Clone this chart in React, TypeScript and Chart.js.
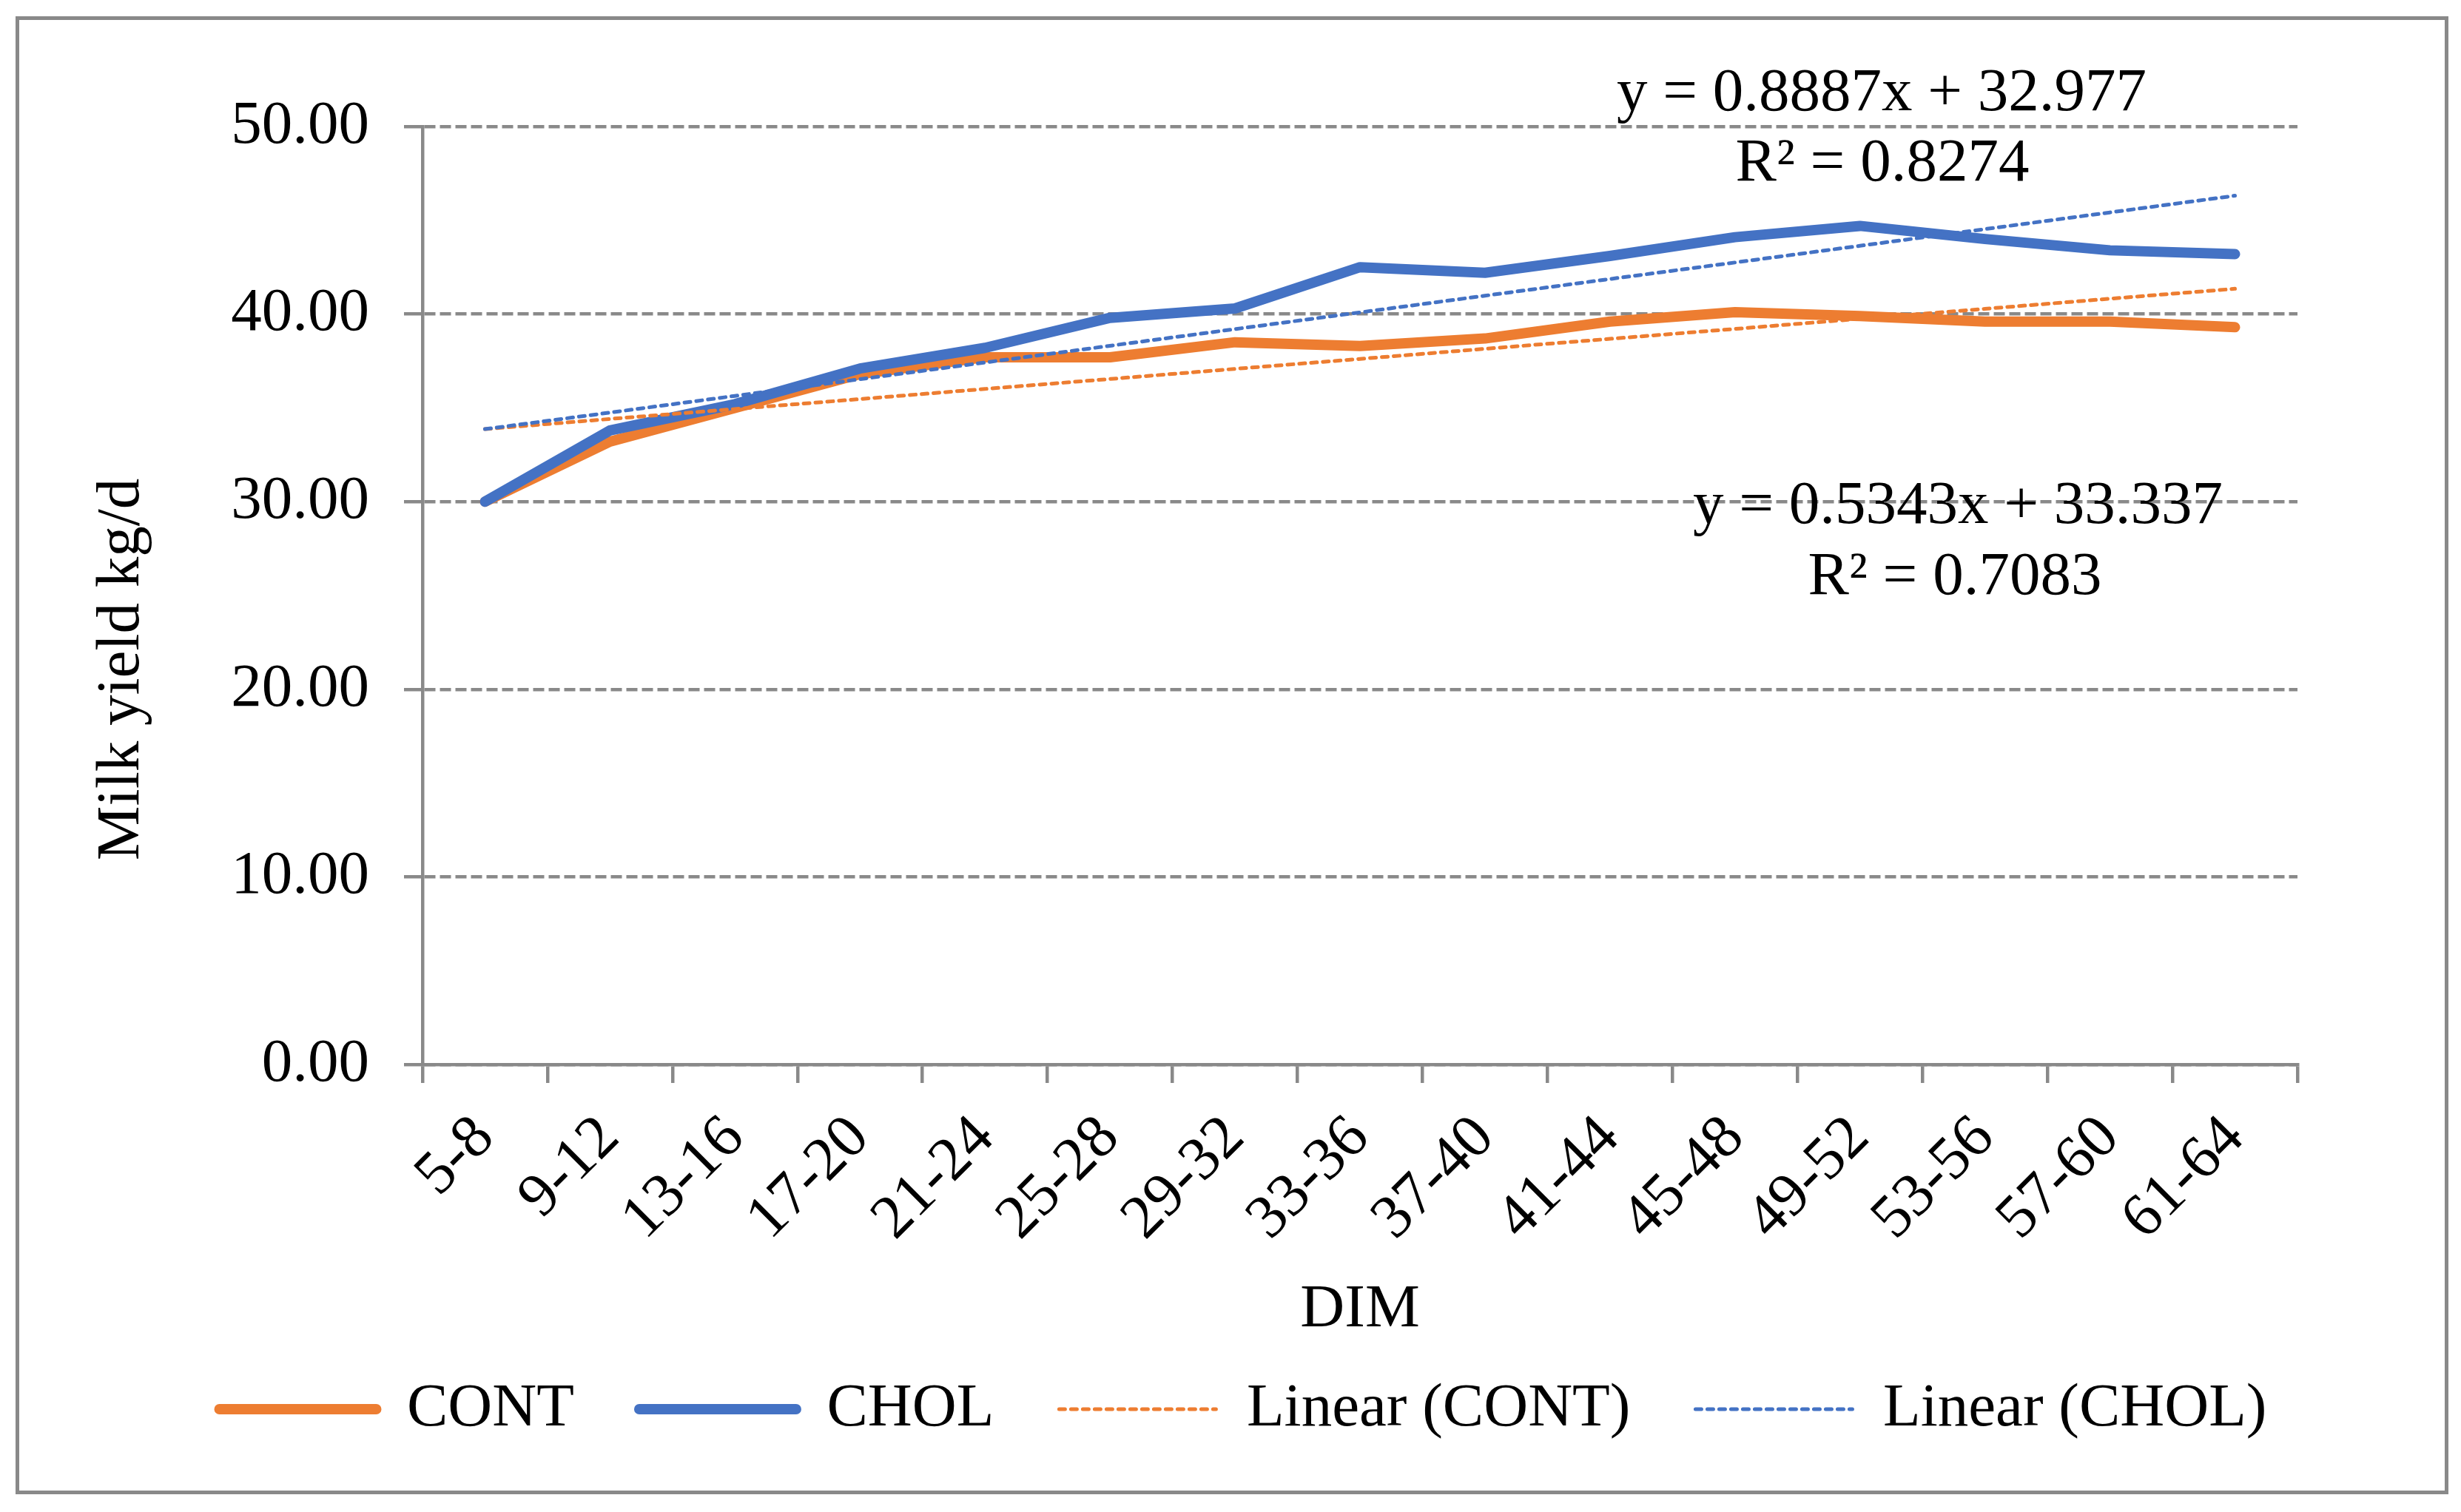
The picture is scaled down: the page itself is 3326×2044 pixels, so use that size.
import React, { useEffect, useRef } from "react";
import { Chart, registerables } from "chart.js";

Chart.register(...registerables);

const CATEGORIES = ["5-8", "9-12", "13-16", "17-20", "21-24", "25-28", "29-32", "33-36", "37-40", "41-44", "45-48", "49-52", "53-56", "57-60", "61-64"];
const CONT = [30.0, 33.2, 35.0, 36.8, 37.7, 37.7, 38.5, 38.3, 38.7, 39.6, 40.1, 39.9, 39.6, 39.6, 39.3];
const CHOL = [30.0, 33.8, 35.2, 37.1, 38.2, 39.8, 40.3, 42.5, 42.2, 43.1, 44.1, 44.7, 44.0, 43.4, 43.2];
const TREND_CONT = [33.87, 34.41, 34.94, 35.47, 36.01, 36.54, 37.08, 37.61, 38.15, 38.68, 39.21, 39.75, 40.28, 40.82, 41.35];
const TREND_CHOL = [33.87, 34.75, 35.64, 36.53, 37.42, 38.31, 39.2, 40.09, 40.98, 41.87, 42.75, 43.64, 44.53, 45.42, 46.31];
const SERIES_LABELS = ["CONT", "CHOL", "Linear (CONT)", "Linear (CHOL)"];
const Y_MIN = 0;
const Y_MAX = 50;
const Y_STEP = 10;
const EQ_CHOL = ["y = 0.8887x + 32.977", "R² = 0.8274"];
const EQ_CONT = ["y = 0.5343x + 33.337", "R² = 0.7083"];
const Y_TITLE = "Milk yield kg/d";
const X_TITLE = "DIM";

const ORANGE = "#ED7D31";
const BLUE = "#4472C4";
const GREY = "#898989";
const FONT = "'Times New Roman', 'Liberation Serif', serif";
const FS = 83;

const annotationPlugin = {
  id: "trendAnnotations",
  afterDraw(chart: any) {
    const ctx = chart.ctx as CanvasRenderingContext2D;
    ctx.save();
    ctx.fillStyle = "#000";
    ctx.font = `${FS}px ${FONT}`;
    ctx.textAlign = "center";
    ctx.textBaseline = "alphabetic";
    ctx.fillText(EQ_CHOL[0], 2543, 149);
    ctx.fillText(EQ_CHOL[1], 2544, 244);
    ctx.fillText(EQ_CONT[0], 2646, 707);
    ctx.fillText(EQ_CONT[1], 2642, 803);
    ctx.translate(187, 905);
    ctx.rotate(-Math.PI / 2);
    ctx.fillText(Y_TITLE, 0, 0);
    ctx.restore();
  },
};

export default function App() {
  const ref = useRef<HTMLCanvasElement>(null);

  useEffect(() => {
    const canvas = ref.current;
    if (!canvas) return;
    Chart.defaults.font.family = FONT;
    const font = { family: FONT, size: FS };
    const baseGenerate = (Chart.defaults.plugins.legend.labels as any).generateLabels;
    const chart = new Chart(canvas, {
      type: "line",
      data: {
        labels: CATEGORIES,
        datasets: [
          {
            label: SERIES_LABELS[0],
            data: CONT,
            borderColor: ORANGE,
            backgroundColor: ORANGE,
            borderWidth: 14,
            pointRadius: 0,
            pointHoverRadius: 0,
            tension: 0,
            borderCapStyle: "round",
            borderJoinStyle: "round",
            fill: false,
            order: 4,
          },
          {
            label: SERIES_LABELS[1],
            data: CHOL,
            borderColor: BLUE,
            backgroundColor: BLUE,
            borderWidth: 14,
            pointRadius: 0,
            pointHoverRadius: 0,
            tension: 0,
            borderCapStyle: "round",
            borderJoinStyle: "round",
            fill: false,
            order: 3,
          },
          {
            label: SERIES_LABELS[2],
            data: TREND_CONT,
            borderColor: ORANGE,
            backgroundColor: ORANGE,
            borderWidth: 5,
            borderDash: [8, 8],
            borderCapStyle: "round",
            pointRadius: 0,
            pointHoverRadius: 0,
            tension: 0,
            fill: false,
            order: 2,
          },
          {
            label: SERIES_LABELS[3],
            data: TREND_CHOL,
            borderColor: BLUE,
            backgroundColor: BLUE,
            borderWidth: 5,
            borderDash: [8, 8],
            borderCapStyle: "round",
            pointRadius: 0,
            pointHoverRadius: 0,
            tension: 0,
            fill: false,
            order: 1,
          },
        ],
      },
      options: {
        animation: false,
        responsive: false,
        devicePixelRatio: 1,
        events: [],
        layout: { padding: { left: 34, right: 0, top: 171, bottom: 87.5 } },
        plugins: {
          tooltip: { enabled: false },
          title: { display: false },
          legend: {
            display: true,
            position: "bottom",
            labels: {
              usePointStyle: true,
              pointStyle: "line",
              pointStyleWidth: 212,
              padding: 88,
              color: "#000",
              font,
              sort: (a: any, b: any) => a.datasetIndex - b.datasetIndex,
              generateLabels: (c: any) =>
                baseGenerate(c).map((item: any) => {
                  const ds = c.data.datasets[item.datasetIndex];
                  return {
                    ...item,
                    strokeStyle: ds.borderColor,
                    fillStyle: ds.borderColor,
                    lineWidth: ds.borderWidth,
                    lineDash: ds.borderDash || [],
                    lineCap: ds.borderCapStyle || "butt",
                    pointStyle: "line",
                  };
                }),
            },
          },
        },
        scales: {
          x: {
            type: "category",
            offset: true,
            grid: {
              display: true,
              offset: true,
              drawOnChartArea: false,
              drawTicks: true,
              tickLength: 25,
              lineWidth: 4.5,
              color: GREY,
            },
            border: { display: true, color: GREY, width: 4.5 },
            ticks: {
              color: "#000",
              font,
              maxRotation: 45,
              minRotation: 45,
              autoSkip: false,
              padding: 26,
              labelOffset: 0,
            },
            title: {
              display: true,
              text: X_TITLE,
              color: "#000",
              font,
              padding: { top: 0, bottom: -46 },
            },
            afterFit: (s: any) => {
              s.height = 336.5;
            },
          },
          y: {
            type: "linear",
            min: Y_MIN,
            max: Y_MAX,
            ticks: {
              stepSize: Y_STEP,
              color: "#000",
              font,
              padding: 47,
              callback: (v: any) => Number(v).toFixed(2),
            },
            grid: { color: GREY, lineWidth: 4.5, tickLength: 25, drawTicks: true },
            border: { display: true, color: GREY, width: 4.5, dash: [15, 6] },
            afterFit: (s: any) => {
              s.width = 537;
            },
          },
          y2: {
            type: "linear",
            position: "right",
            display: true,
            grid: { display: false },
            border: { display: false },
            ticks: { display: false },
            afterFit: (s: any) => {
              s.width = 221;
            },
          },
        },
      },
      plugins: [annotationPlugin],
    } as any);
    return () => chart.destroy();
  }, []);

  return (
    <div style={{ position: "absolute", left: 0, top: 0, width: 3326, height: 2044, background: "#fff", overflow: "hidden" }}>
      <div
        style={{
          position: "absolute",
          left: 21,
          top: 22,
          width: 3288,
          height: 1998,
          border: `5px solid ${GREY}`,
          boxSizing: "border-box",
        }}
      />
      <canvas ref={ref} width={3326} height={2044} style={{ position: "absolute", left: 0, top: 0, width: 3326, height: 2044 }} />
    </div>
  );
}
